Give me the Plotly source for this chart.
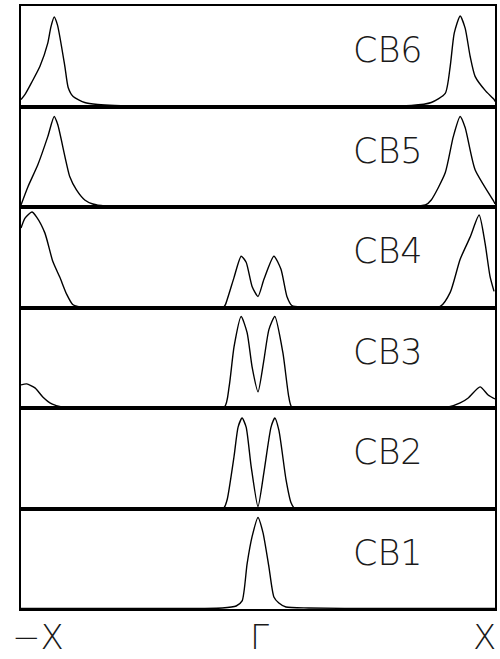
import plotly.graph_objects as go
from plotly.subplots import make_subplots

# k-point coordinate: -1 = -X, 0 = Gamma, 1 = X ; weight in fraction of panel height
band_names = ["CB6", "CB5", "CB4", "CB3", "CB2", "CB1"]

cb6_x = [-1.0, -0.983, -0.955, -0.920, -0.887, -0.874, -0.860, -0.846, -0.815, -0.801, -0.780,
         -0.731, -0.676, -0.605, -0.4, 0.0, 0.4, 0.647, 0.731, 0.790, 0.811, 0.828, 0.853, 0.874,
         0.895, 0.916, 0.962, 0.996, 1.0]
cb6_y = [0.07, 0.12, 0.24, 0.40, 0.63, 0.79, 0.89, 0.81, 0.40, 0.19, 0.10,
         0.04, 0.02, 0.01, 0.005, 0.005, 0.005, 0.01, 0.04, 0.13, 0.40, 0.73, 0.90, 0.78,
         0.50, 0.30, 0.15, 0.07, 0.05]

cb5_x = [-1.0, -0.971, -0.929, -0.887, -0.860, -0.845, -0.794, -0.766, -0.731, -0.697, -0.647,
         -0.4, 0.0, 0.4, 0.706, 0.731, 0.790, 0.824, 0.853, 0.874, 0.916, 0.996, 1.0]
cb5_y = [0.02, 0.20, 0.42, 0.70, 0.90, 0.82, 0.30, 0.17, 0.07, 0.03, 0.01,
         0.005, 0.005, 0.005, 0.02, 0.07, 0.34, 0.70, 0.90, 0.79, 0.37, 0.05, 0.03]

cb4_x = [-1.0, -0.983, -0.954, -0.934, -0.899, -0.866, -0.836, -0.807, -0.782, -0.761, -0.5,
         -0.143, -0.130, -0.101, -0.071, -0.050, -0.025, 0.0, 0.025, 0.067, 0.097, 0.122, 0.143,
         0.4, 0.769, 0.811, 0.853, 0.895, 0.933, 0.958, 0.979, 0.996]
cb4_y = [0.79, 0.89, 0.95, 0.90, 0.74, 0.46, 0.30, 0.13, 0.03, 0.01, 0.005,
         0.01, 0.08, 0.30, 0.51, 0.45, 0.21, 0.11, 0.28, 0.51, 0.38, 0.11, 0.02,
         0.005, 0.01, 0.15, 0.48, 0.70, 0.92, 0.64, 0.31, 0.16]

cb3_x = [-1.0, -0.976, -0.941, -0.908, -0.870, -0.828, -0.773, -0.5, -0.143, -0.122, -0.101,
         -0.071, -0.046, -0.025, 0.0, 0.025, 0.046, 0.071, 0.105, 0.130, 0.143, 0.4, 0.803,
         0.853, 0.887, 0.937, 0.971, 1.0]
cb3_y = [0.23, 0.24, 0.20, 0.11, 0.04, 0.01, 0.005, 0.005, 0.005, 0.21, 0.61,
         0.91, 0.75, 0.41, 0.16, 0.48, 0.78, 0.91, 0.55, 0.11, 0.01, 0.005, 0.01,
         0.05, 0.10, 0.21, 0.13, 0.09]

cb2_x = [-1.0, -0.5, -0.151, -0.143, -0.130, -0.101, -0.084, -0.067, -0.050, -0.029, 0.0,
         0.025, 0.055, 0.071, 0.088, 0.118, 0.139, 0.151, 0.5, 1.0]
cb2_y = [0.005, 0.005, 0.005, 0.01, 0.09, 0.52, 0.81, 0.90, 0.81, 0.42, 0.02,
         0.36, 0.81, 0.90, 0.78, 0.29, 0.06, 0.01, 0.005, 0.005]

cb1_x = [-1.0, -0.5, -0.151, -0.092, -0.067, -0.046, -0.025, 0.0, 0.021, 0.046, 0.067,
         0.088, 0.118, 0.214, 0.5, 1.0]
cb1_y = [0.005, 0.005, 0.01, 0.03, 0.08, 0.45, 0.72, 0.91, 0.76, 0.42, 0.12,
         0.06, 0.02, 0.01, 0.005, 0.005]

series = [(cb6_x, cb6_y), (cb5_x, cb5_y), (cb4_x, cb4_y),
          (cb3_x, cb3_y), (cb2_x, cb2_y), (cb1_x, cb1_y)]

kpoint_labels = ["\u2212X", "\u0393", "X"]

fig = make_subplots(rows=6, cols=1, vertical_spacing=0, shared_xaxes=True)

for i, (xs, ys) in enumerate(series):
    fig.add_trace(go.Scatter(x=xs, y=ys, mode="lines",
                             line=dict(color="black", width=1.4, shape="spline", smoothing=0.6),
                             showlegend=False, hoverinfo="skip"), row=i + 1, col=1)
    yref = "y domain" if i == 0 else f"y{i + 1} domain"
    fig.add_annotation(text=band_names[i], xref="paper", yref=yref, x=0.775, y=0.56,
                       xanchor="center", yanchor="middle", showarrow=False,
                       font=dict(family="DejaVu Sans", weight=200, size=35, color="#1a1a1a"))

fig.update_xaxes(range=[-1, 1], showticklabels=False, ticks="", showgrid=False, zeroline=False,
                 showline=True, mirror=True, linecolor="black", linewidth=1.5)
fig.update_yaxes(range=[0, 1], showticklabels=False, ticks="", showgrid=False, zeroline=False,
                 showline=True, mirror=True, linecolor="black", linewidth=1.5)

label_x = [0.036, 0.504, 0.977]
for lab, lx in zip(kpoint_labels, label_x):
    fig.add_annotation(text=lab, xref="paper", yref="paper", x=lx, y=-0.046,
                       xanchor="center", yanchor="middle", showarrow=False,
                       font=dict(family="DejaVu Sans", weight=200, size=34, color="#1a1a1a"))

fig.update_layout(width=500, height=659, margin=dict(l=21, r=3, t=6, b=50),
                  paper_bgcolor="white", plot_bgcolor="white")

fig.write_html(
    "out.html",
    config={"responsive": False, "displayModeBar": False},
    post_script=("document.body.style.margin='0';document.body.style.overflow='hidden';"
                 "Plotly.relayout('{plot_id}', {width: 500, height: 659});"),
)
